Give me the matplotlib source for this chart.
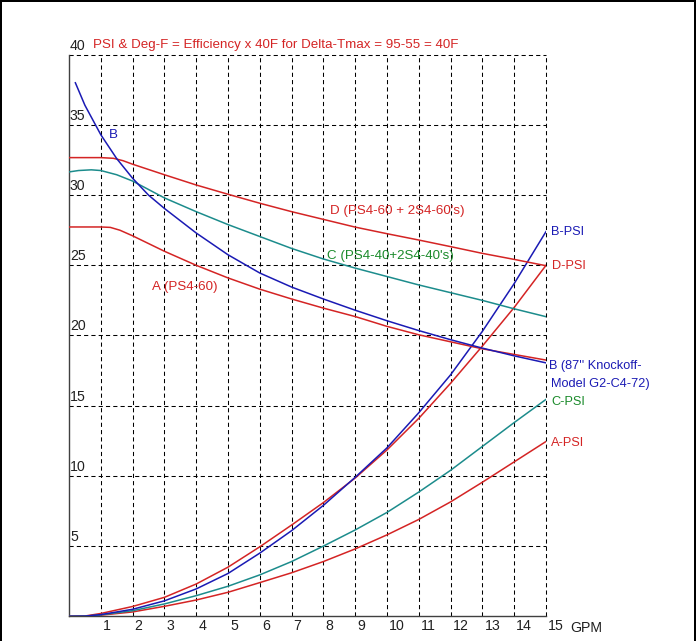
import matplotlib
matplotlib.use("Agg")
import matplotlib.pyplot as plt
from matplotlib import font_manager
from matplotlib.patches import Rectangle

# prefer a condensed face for the labels when one is available
_names = {f.name for f in font_manager.fontManager.ttflist}
if 'Liberation Sans Narrow' in _names:
    plt.rcParams['font.family'] = ['Liberation Sans Narrow', 'DejaVu Sans']
    fs_main, fs_side, fs_tick = 11.5, 11.0, 12.0
else:
    plt.rcParams['font.family'] = ['Liberation Sans', 'DejaVu Sans']
    fs_main, fs_side, fs_tick = 9.6, 9.2, 10.2

# ---- efficiency curves (Deg-F) ----
b_eff_x = [0.2, 0.5, 1, 1.5, 2, 2.5, 3, 4, 5, 6, 7, 8, 9, 10, 11, 12, 13, 14, 15]
b_eff_y = [38.0, 36.4, 34.3, 32.6, 31.2, 30.0, 29.05, 27.3, 25.75, 24.45, 23.45, 22.6,
           21.8, 21.05, 20.35, 19.7, 19.1, 18.55, 18.05]

d_eff_x = [0, 1.0, 1.4, 1.7, 2, 3, 4, 5, 6, 7, 8, 9, 10, 11, 12, 13, 14, 15]
d_eff_y = [32.67, 32.67, 32.62, 32.45, 32.2, 31.45, 30.72, 30.06, 29.42, 28.82, 28.27,
           27.72, 27.25, 26.8, 26.33, 25.85, 25.42, 24.97]

c_eff_x = [0, 0.3, 0.7, 1.0, 1.5, 2, 3, 4, 5, 6, 7, 8, 9, 10, 11, 12, 13, 14, 15]
c_eff_y = [31.65, 31.75, 31.8, 31.75, 31.45, 31.0, 29.8, 28.82, 27.9, 27.05, 26.2, 25.45,
           24.8, 24.2, 23.6, 23.05, 22.5, 21.9, 21.34]

a_eff_x = [0, 1.0, 1.3, 1.6, 2, 3, 4, 5, 6, 7, 8, 9, 10, 11, 12, 13, 14, 15]
a_eff_y = [27.73, 27.73, 27.7, 27.5, 27.1, 26.0, 25.0, 24.1, 23.3, 22.6, 21.95, 21.35,
           20.65, 20.05, 19.55, 19.05, 18.65, 18.25]

# ---- pressure drop curves (PSI) ----
psi_x = [0, 0.5, 1, 2, 3, 4, 5, 6, 7, 8, 9, 10, 11, 12, 13, 14, 15]
b_psi = [0, 0.01, 0.12, 0.5, 1.1, 1.95, 3.05, 4.5, 6.1, 7.9, 9.9, 12.0, 14.5, 17.2, 20.3, 23.7, 27.4]
d_psi = [0, 0.02, 0.2, 0.7, 1.35, 2.3, 3.5, 4.95, 6.5, 8.1, 9.85, 11.85, 14.1, 16.6, 19.25, 22.0, 25.0]
c_psi = [0, 0.01, 0.1, 0.4, 0.88, 1.47, 2.14, 2.95, 3.9, 5.0, 6.15, 7.4, 8.85, 10.4, 12.1, 13.8, 15.45]
a_psi = [0, 0.01, 0.08, 0.31, 0.71, 1.16, 1.71, 2.4, 3.1, 3.9, 4.8, 5.8, 6.9, 8.15, 9.55, 11.0, 12.45]

x_ticks = list(range(1, 16))
y_ticks = [5, 10, 15, 20, 25, 30, 35, 40]

RED = '#d42424'
BLUE = '#1a1ab4'
TEAL = '#1c8c8c'
GREEN = '#1a8a2a'
INK = '#202020'

fig = plt.figure(figsize=(6.96, 6.41), dpi=100)
ax = fig.add_axes([69 / 696, 24.7 / 641, 477 / 696, 561.6 / 641])
ax.set_xlim(0, 15)
ax.set_ylim(0, 40)
for side in ('top', 'right'):
    ax.spines[side].set_visible(False)
for side in ('left', 'bottom'):
    ax.spines[side].set_color('#404040')
    ax.spines[side].set_linewidth(1.0)
ax.set_xticks([])
ax.set_yticks([])

dash = (0, (4, 3))
for yv in y_ticks:
    ax.axhline(yv, color='black', lw=0.75, ls=dash, clip_on=False, zorder=1)
for xv in x_ticks:
    ax.axvline(xv, color='black', lw=0.75, ls=dash, clip_on=False, zorder=1)

lw = 1.1
ax.plot(psi_x, a_psi, color=RED, lw=lw, zorder=3)
ax.plot(psi_x, d_psi, color=RED, lw=lw, zorder=3)
ax.plot(psi_x, c_psi, color=TEAL, lw=lw, zorder=3)
ax.plot(psi_x, b_psi, color=BLUE, lw=lw, zorder=3)
ax.plot(a_eff_x, a_eff_y, color=RED, lw=lw, zorder=3)
ax.plot(d_eff_x, d_eff_y, color=RED, lw=lw, zorder=3)
ax.plot(c_eff_x, c_eff_y, color=TEAL, lw=lw, zorder=3)
ax.plot(b_eff_x, b_eff_y, color=BLUE, lw=lw, zorder=3)

# y tick labels sit just above their gridline, inside the plot
for yv in y_ticks:
    ax.annotate(str(yv), (0, yv), xytext=(1, 2), textcoords='offset pixels',
                ha='left', va='bottom', fontsize=fs_tick, color=INK,
                annotation_clip=False)
# x tick labels below the axis, starting just right of their gridline
for xv in x_ticks:
    ax.annotate(str(xv), (xv, 0), xytext=(2, -10), textcoords='offset pixels',
                ha='left', va='center', fontsize=fs_tick, color=INK,
                annotation_clip=False)
ax.annotate('GPM', (15, 0), xytext=(24, -12), textcoords='offset pixels',
            ha='left', va='center', fontsize=fs_tick, color=INK, annotation_clip=False)

ax.text(0.755, 40.69, 'PSI & Deg-F = Efficiency x 40F for Delta-Tmax = 95-55 = 40F',
        color=RED, fontsize=fs_main, ha='left', va='center')

# curve labels
ax.text(1.26, 34.3, 'B', color=BLUE, fontsize=fs_main, ha='left', va='center')
ax.text(8.21, 28.87, "D (PS4-60 + 2S4-60's)", color=RED, fontsize=fs_main, ha='left', va='center')
ax.text(8.11, 25.67, "C (PS4-40+2S4-40's)", color=GREEN, fontsize=fs_main, ha='left', va='center')
ax.text(2.61, 23.45, 'A (PS4-60)', color=RED, fontsize=fs_main, ha='left', va='center')

ax.text(15.16, 27.37, 'B-PSI', color=BLUE, fontsize=fs_side, ha='left', va='center', clip_on=False)
ax.text(15.19, 24.95, 'D-PSI', color=RED, fontsize=fs_side, ha='left', va='center', clip_on=False)
ax.text(15.1, 17.83, "B (87'' Knockoff-", color=BLUE, fontsize=fs_side, ha='left', va='center', clip_on=False)
ax.text(15.16, 16.55, 'Model G2-C4-72)', color=BLUE, fontsize=fs_side, ha='left', va='center', clip_on=False)
ax.text(15.16, 15.27, 'C-PSI', color=GREEN, fontsize=fs_side, ha='left', va='center', clip_on=False)
ax.text(15.16, 12.35, 'A-PSI', color=RED, fontsize=fs_side, ha='left', va='center', clip_on=False)

# thin black frame along the top and sides of the image
for rect in [(0, 1 - 2 / 641, 1, 2 / 641), (0, 0, 2 / 696, 1), (1 - 2 / 696, 0, 2 / 696, 1)]:
    fig.add_artist(Rectangle(rect[:2], rect[2], rect[3], transform=fig.transFigure,
                             color='black', lw=0))

fig.savefig('out.png', dpi=100)
